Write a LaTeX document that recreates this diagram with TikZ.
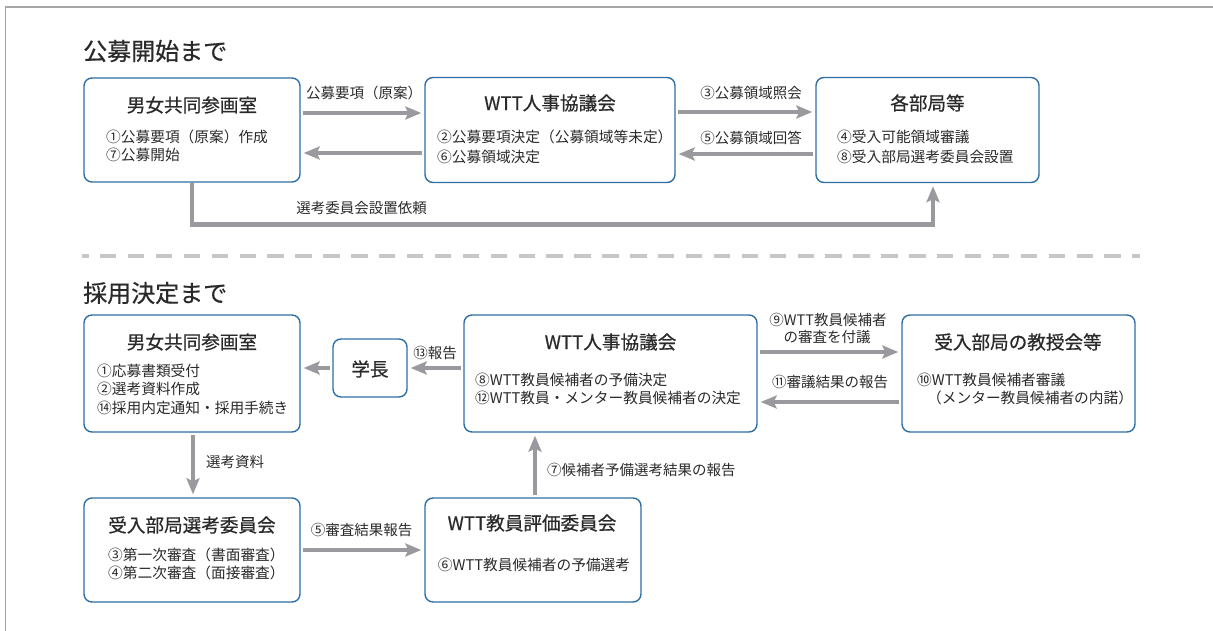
\documentclass[tikz,border=0pt]{standalone}
\usepackage{fontspec}
\setmainfont{Noto Sans CJK JP}
\newfontfamily\jpb[FakeBold=0.6]{Noto Sans CJK JP}
\usetikzlibrary{arrows.meta,calc}
\definecolor{boxblue}{HTML}{2F6EA5}
\definecolor{arrgray}{HTML}{9A9A9E}
\definecolor{dashgray}{HTML}{C6C6C6}
\definecolor{framegray}{HTML}{A5A5A5}
\definecolor{txt}{HTML}{2A2A2A}
\tikzset{
  box/.style={draw=boxblue, line width=1.4pt, rounded corners=8pt, fill=white, inner sep=0pt},
  ttl/.style={font=\jpb\fontsize{18.6}{20}\selectfont, text=txt, inner sep=0pt, anchor=center},
  body/.style={font=\fontsize{14.7}{18}\selectfont, text=txt, inner sep=0pt, anchor=west},
  lbl/.style={font=\fontsize{14.5}{17}\selectfont, text=txt, inner sep=0pt},
  sec/.style={font=\jpb\fontsize{24}{26}\selectfont, text=txt, inner sep=0pt, anchor=west},
  arr/.style={draw=arrgray, line width=4.5pt, -{Stealth[length=16pt,width=13pt,inset=3pt]}, shorten <=2pt, shorten >=3pt},
}
\begin{document}
\begin{tikzpicture}[x=1pt,y=-1pt]
\useasboundingbox (0,0) rectangle (1213,631);
% frame
\coordinate (f1) at (5.5,631);
\coordinate (f2) at (5.5,7);
\coordinate (f3) at (1213,7);
\draw[framegray, line width=1.5pt] (f1) -- (f2) -- (f3);

% ---------- section 1 ----------
\node[sec] (s1) at (83,51) {公募開始まで};

\node[box, minimum width=216pt, minimum height=104pt] (A1) at (192,130) {};
\node[box, minimum width=250pt, minimum height=105pt] (A2) at (550,130) {};
\node[box, minimum width=223pt, minimum height=105pt] (A3) at (927.5,130) {};

\node[ttl] (A1t) at (192,105) {男女共同参画室};
\node[body] (A1a) at (106,137) {①公募要項（原案）作成};
\node[body] (A1b) at (106,155) {⑦公募開始};

\node[ttl] (A2t) at (550,103) {WTT人事協議会};
\node[body] (A2a) at (437,137) {②公募要項決定（公募領域等未定）};
\node[body] (A2b) at (437,157) {⑥公募領域決定};

\node[ttl] (A3t) at (927.5,103) {各部局等};
\node[body] (A3a) at (837,137) {④受入可能領域審議};
\node[body] (A3b) at (837,157) {⑧受入部局選考委員会設置};

\draw[arr] ([yshift=17pt]A1.east) -- ([yshift=17pt]A2.west);
\node[lbl] (l1) at (364,93) {公募要項（原案）};
\draw[arr] ([yshift=-23pt]A2.west) -- ([yshift=-23pt]A1.east);

\draw[arr] ([yshift=18pt]A2.east) -- ([yshift=18pt]A3.west);
\node[lbl] (l3) at (751,93) {③公募領域照会};
\draw[arr] ([yshift=-24pt]A3.west) -- ([yshift=-24pt]A2.east);
\node[lbl] (l5) at (751,138) {⑤公募領域回答};

\draw[arr, shorten <=0pt] (A1.south) -- ++(0,42) -| ([xshift=5.5pt]A3.south);
\node[lbl] (l8) at (361.5,208) {選考委員会設置依頼};

% dashed separator
\coordinate (d1) at (82,256);
\coordinate (d2) at (1140,256);
\draw[dashgray, line width=4.2pt, dash pattern=on 16.4pt off 11.5pt, dash phase=9.9pt] (d1) -- (d2);

% ---------- section 2 ----------
\node[sec] (s2) at (83,293) {採用決定まで};

\node[box, minimum width=216pt, minimum height=117pt] (B1) at (192,373.5) {};
\node[box, minimum width=74pt, minimum height=58pt] (G) at (370,368) {};
\node[box, minimum width=293pt, minimum height=117pt] (B3) at (610.5,373.5) {};
\node[box, minimum width=233pt, minimum height=117pt] (B4) at (1018.5,373.5) {};
\node[box, minimum width=216pt, minimum height=104pt] (B5) at (192,550) {};
\node[box, minimum width=216pt, minimum height=104pt] (B6) at (533,550) {};

\node[ttl] (B1t) at (192,342) {男女共同参画室};
\node[body] (B1a) at (97,371) {①応募書類受付};
\node[body] (B1b) at (97,389) {②選考資料作成};
\node[body] (B1c) at (97,408) {⑭採用内定通知・採用手続き};

\node[ttl] (Gt) at (370,369) {学長};

\node[ttl] (B3t) at (610.5,342) {WTT人事協議会};
\node[body] (B3a) at (475,380) {⑧WTT教員候補者の予備決定};
\node[body] (B3b) at (475,398) {⑫WTT教員・メンター教員候補者の決定};

\node[ttl] (B4t) at (1018,342) {受入部局の教授会等};
\node[body] (B4a) at (917,380) {⑩WTT教員候補者審議};
\node[body] (B4b) at (927,398) {（メンター教員候補者の内諾）};

\node[ttl] (B5t) at (192,525) {受入部局選考委員会};
\node[body] (B5a) at (108,555) {③第一次審査（書面審査）};
\node[body] (B5b) at (108,573) {④第二次審査（面接審査）};

\node[ttl] (B6t) at (532,523) {WTT教員評価委員会};
\node[body, anchor=center] (B6a) at (534,565) {⑥WTT教員候補者の予備選考};

% connectors
\draw[arr] (G.west) -- (G.west -| B1.east);
\draw[arr] (G.east -| B3.west) -- (G.east);
\node[lbl] (l13) at (435,353) {⑬報告};

\draw[arr] ([yshift=21.5pt]B3.east) -- ([yshift=21.5pt]B4.west);
\node[lbl] (l9a) at (828,320) {⑨WTT教員候補者};
\node[lbl] (l9b) at (827,337) {の審査を付議};
\draw[arr] ([yshift=-28.5pt]B4.west) -- ([yshift=-28.5pt]B3.east);
\node[lbl] (l11) at (830,382) {⑪審議結果の報告};

\draw[arr] ([xshift=1pt]B1.south) -- ([xshift=1pt]B5.north);
\node[lbl, anchor=west] (l2) at (206,462) {選考資料};

\draw[arr] (B5.east) -- (B6.west);
\node[lbl] (l5b) at (361.5,530) {⑤審査結果報告};

\draw[arr] ([xshift=2pt]B6.north) -- ([xshift=2pt]B6.north |- B3.south);
\node[lbl, anchor=west] (l7) at (547,470) {⑦候補者予備選考結果の報告};
\end{tikzpicture}
\end{document}
